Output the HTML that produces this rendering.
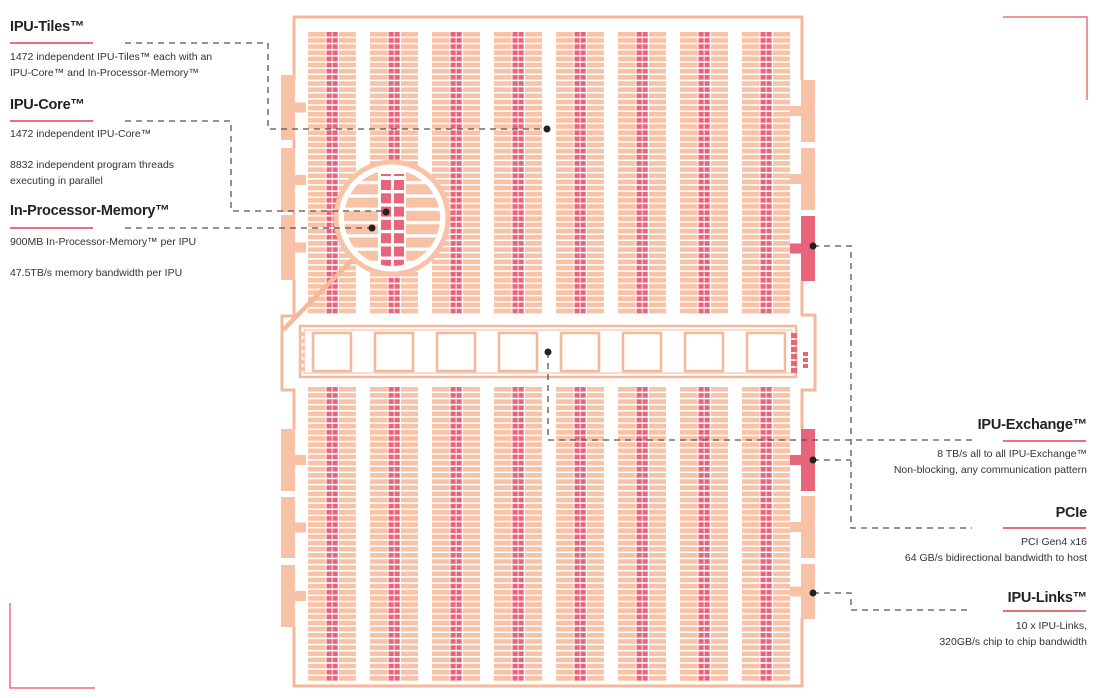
<!DOCTYPE html>
<html><head><meta charset="utf-8"><style>
html,body{margin:0;padding:0;background:#fff;}
body{width:1100px;height:698px;position:relative;overflow:hidden;font-family:"Liberation Sans",sans-serif;color:#333;}
.h{position:absolute;font-size:14.5px;font-weight:bold;color:#222;letter-spacing:-0.2px}
.t{position:absolute;font-size:10.5px;line-height:16px;color:#333}
.r{text-align:right}
.u{position:absolute;height:2px;background:#e8707c;width:83px}
</style></head><body>
<svg id="s" width="1100" height="698" style="position:absolute;left:0;top:0">
<g id="tiles"></g>
<g fill="none" stroke="#f5b89a" stroke-width="3">
<path d="M294,80 V17 H802 V80"/>
<path d="M294,140 V148 M294,212 V215 M294,280 V316 H282 V390 H294 V429"/>
<path d="M294,627 V686 H802 V618"/>
<path d="M802,281 V315 H815 V390 H802 V429"/>
<rect x="300" y="326" width="496" height="51" stroke-width="2.5"/>
<rect x="304" y="330" width="488" height="43" stroke-width="1"/>
<line x1="283" y1="330" x2="354" y2="258" stroke-width="4.5"/>
</g>
<g id="blocks"></g>
<g id="sq" fill="#fff" stroke="#f5b89a" stroke-width="2.5"></g>
<g id="mag"></g>
<g fill="none" stroke="#555" stroke-width="1.3" stroke-dasharray="6,5">
<path d="M125,43 H268 V129 H547"/>
<path d="M125,121 H231 V211 H386"/>
<path d="M125,228 H372"/>
<path d="M813,246 H851 V528 H972"/>
<path d="M548,352 V440 H972"/>
<path d="M813,460 H851"/>
<path d="M813,593 H851 V610 H972"/>
</g>
<g fill="#222">
<circle cx="547" cy="129" r="3.5"/><circle cx="386" cy="212" r="3.5"/><circle cx="372" cy="228" r="3.5"/>
<circle cx="813" cy="246" r="3.5"/><circle cx="548" cy="352" r="3.5"/><circle cx="813" cy="460" r="3.5"/><circle cx="813" cy="593" r="3.5"/>
</g>
<g stroke="#e8707c" stroke-width="1.5" fill="none">
<path d="M1003,17 H1087 V100"/>
<path d="M10,603 V688 H95"/>
</g>
</svg>

<div class="h" style="left:10px;top:19px">IPU-Tiles™</div>
<div class="u" style="left:10px;top:42px"></div>
<div class="t" style="left:10px;top:49px">1472 independent IPU-Tiles™ each with an<br>IPU-Core™ and In-Processor-Memory™</div>
<div class="h" style="left:10px;top:97px">IPU-Core™</div>
<div class="u" style="left:10px;top:120px"></div>
<div class="t" style="left:10px;top:126px">1472 independent IPU-Core™</div>
<div class="t" style="left:10px;top:157px">8832 independent program threads<br>executing in parallel</div>
<div class="h" style="left:10px;top:203px">In-Processor-Memory™</div>
<div class="u" style="left:10px;top:227px"></div>
<div class="t" style="left:10px;top:234px">900MB In-Processor-Memory™ per IPU</div>
<div class="t" style="left:10px;top:265px">47.5TB/s memory bandwidth per IPU</div>

<div class="h r" style="right:13px;top:417px">IPU-Exchange™</div>
<div class="u" style="left:1003px;top:440px"></div>
<div class="t r" style="right:13px;top:446px">8 TB/s all to all IPU-Exchange™<br>Non-blocking, any communication pattern</div>
<div class="h r" style="right:13px;top:505px">PCIe</div>
<div class="u" style="left:1003px;top:527px"></div>
<div class="t r" style="right:13px;top:534px">PCI Gen4 x16<br>64 GB/s bidirectional bandwidth to host</div>
<div class="h r" style="right:13px;top:590px">IPU-Links™</div>
<div class="u" style="left:1003px;top:610px"></div>
<div class="t r" style="right:13px;top:618px">10 x IPU-Links,<br>320GB/s chip to chip bandwidth</div>

<script>
var NS="http://www.w3.org/2000/svg";
function R(p,x,y,w,h,f){var r=document.createElementNS(NS,"rect");r.setAttribute("x",x);r.setAttribute("y",y);r.setAttribute("width",w);r.setAttribute("height",h);r.setAttribute("fill",f);p.appendChild(r);return r;}
var P="#f8c2a6",RD="#e8647a";
var g=document.getElementById("tiles");
function col(x,y0,n){for(var i=0;i<n;i++){var y=y0+i*6.15;R(g,x,y,17.5,4.6,P);R(g,x+18.5,y,5.2,4.6,RD);R(g,x+24.5,y,5.2,4.6,RD);R(g,x+31,y,17,4.6,P);}}
for(var c=0;c<8;c++){var x=308+c*62;col(x,32,46);col(x,387,48);}
var b=document.getElementById("blocks");
function blk(x,y,h,left,f){R(b,x,y,14,h,f);var sy=y+h/2-5;if(left)R(b,x+14,sy,11,10,f);else R(b,x-11,sy,11,10,f);}
[[75,65],[148,64],[215,65],[429,62],[497,61],[565,62]].forEach(function(a){blk(281,a[0],a[1],true,P);});
[[80,62,P],[148,62,P],[216,65,RD],[429,62,RD],[496,62,P],[564,55,P]].forEach(function(a){blk(801,a[0],a[1],false,a[2]);});
var s=document.getElementById("sq");
for(var c=0;c<8;c++)R(s,313+c*62,333,38,38,"#fff");
for(var i=0;i<6;i++){R(b,300,332+i*7,5,4,P);R(b,791,333+i*7,6,5,RD);}
for(var i=0;i<3;i++)R(b,803,352+i*6,5,4,RD);
/* magnifier */
var m=document.getElementById("mag");
var cx=392,cy=218;
var cp=document.createElementNS(NS,"clipPath");cp.id="cc";var cc=document.createElementNS(NS,"circle");cc.setAttribute("cx",cx);cc.setAttribute("cy",cy);cc.setAttribute("r",48);cp.appendChild(cc);m.appendChild(cp);
var o=document.createElementNS(NS,"circle");o.setAttribute("cx",cx);o.setAttribute("cy",cy);o.setAttribute("r",56);o.setAttribute("fill","#fff");o.setAttribute("stroke",P);o.setAttribute("stroke-width",5);m.appendChild(o);
var gi=document.createElementNS(NS,"g");gi.setAttribute("clip-path","url(#cc)");m.appendChild(gi);
R(gi,330,160,124,120,"#fff");
for(var i=0;i<8;i++){var y=171+i*13.3;R(gi,330,y,48,10,P);R(gi,406,y,50,10,P);}
for(var i=0;i<7;i++){var y=180+i*13.3;R(gi,381,y,10,10,RD);R(gi,394,y,10,10,RD);}
R(gi,381,174,10,2,RD);R(gi,394,174,10,2,RD);
</script>
</body></html>
